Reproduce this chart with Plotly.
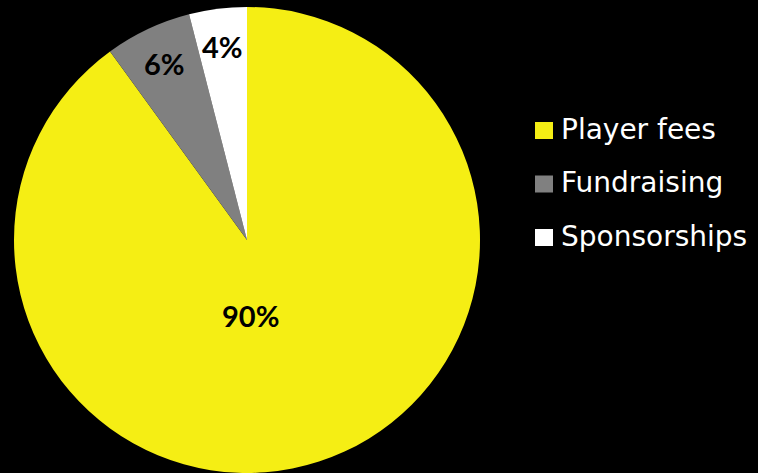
import math
import plotly.graph_objects as go

labels = ["Player fees", "Fundraising", "Sponsorships"]
values = [90, 6, 4]
colors = ["#F5EE14", "#808080", "#FFFFFF"]

W, H = 758, 473
CX, CY, R = 247, 240, 233
total = sum(values)
pct_text = [f"<b>{round(v / total * 100)}%</b>" for v in values]

fig = go.Figure(go.Pie(
    labels=labels, values=values, sort=False, direction="clockwise", rotation=0,
    marker=dict(colors=colors, line=dict(width=0)),
    textinfo="none",
    domain=dict(x=[(CX - R) / W, (CX + R) / W], y=[1 - (CY + R) / H, 1 - (CY - R) / H]),
    showlegend=False,
))

pct_font = dict(family="Lato, DejaVu Sans", size=29, color="black")
annotations = []
cum = 0
for i, v in enumerate(values):
    mid = (cum + v / 2) / total * 2 * math.pi
    cum += v
    if i == 0:
        # label of the large slice sits below the centre, as in the original
        px, py = CX + 3, CY + 75
    else:
        rr = 0.835 * R
        px, py = CX + rr * math.sin(mid), CY - rr * math.cos(mid)
    annotations.append(dict(x=px / W, y=1 - py / H, xref="paper", yref="paper",
                            xanchor="center", yanchor="middle",
                            text=pct_text[i], showarrow=False, font=pct_font))

shapes = []
legend_y0 = 130.5
legend_step = 53.5
for i, (lab, col) in enumerate(zip(labels, colors)):
    cy = legend_y0 + i * legend_step
    shapes.append(dict(type="rect", xref="paper", yref="paper",
                       x0=535 / W, x1=553 / W, y0=1 - (cy - 8.5) / H, y1=1 - (cy + 8.5) / H,
                       fillcolor=col, line=dict(width=0)))
    annotations.append(dict(x=559 / W, y=1 - (cy - 1) / H, xref="paper", yref="paper",
                            xanchor="left", yanchor="middle", text=lab, showarrow=False,
                            font=dict(family="DejaVu Sans", size=28, color="white")))

fig.update_layout(
    width=W, height=H, margin=dict(l=0, r=0, t=0, b=0),
    paper_bgcolor="black", plot_bgcolor="black",
    annotations=annotations, shapes=shapes,
)
fig.write_html("out.html", config=dict(displayModeBar=False),
               post_script="document.body.style.margin='0';document.body.style.background='black';")
